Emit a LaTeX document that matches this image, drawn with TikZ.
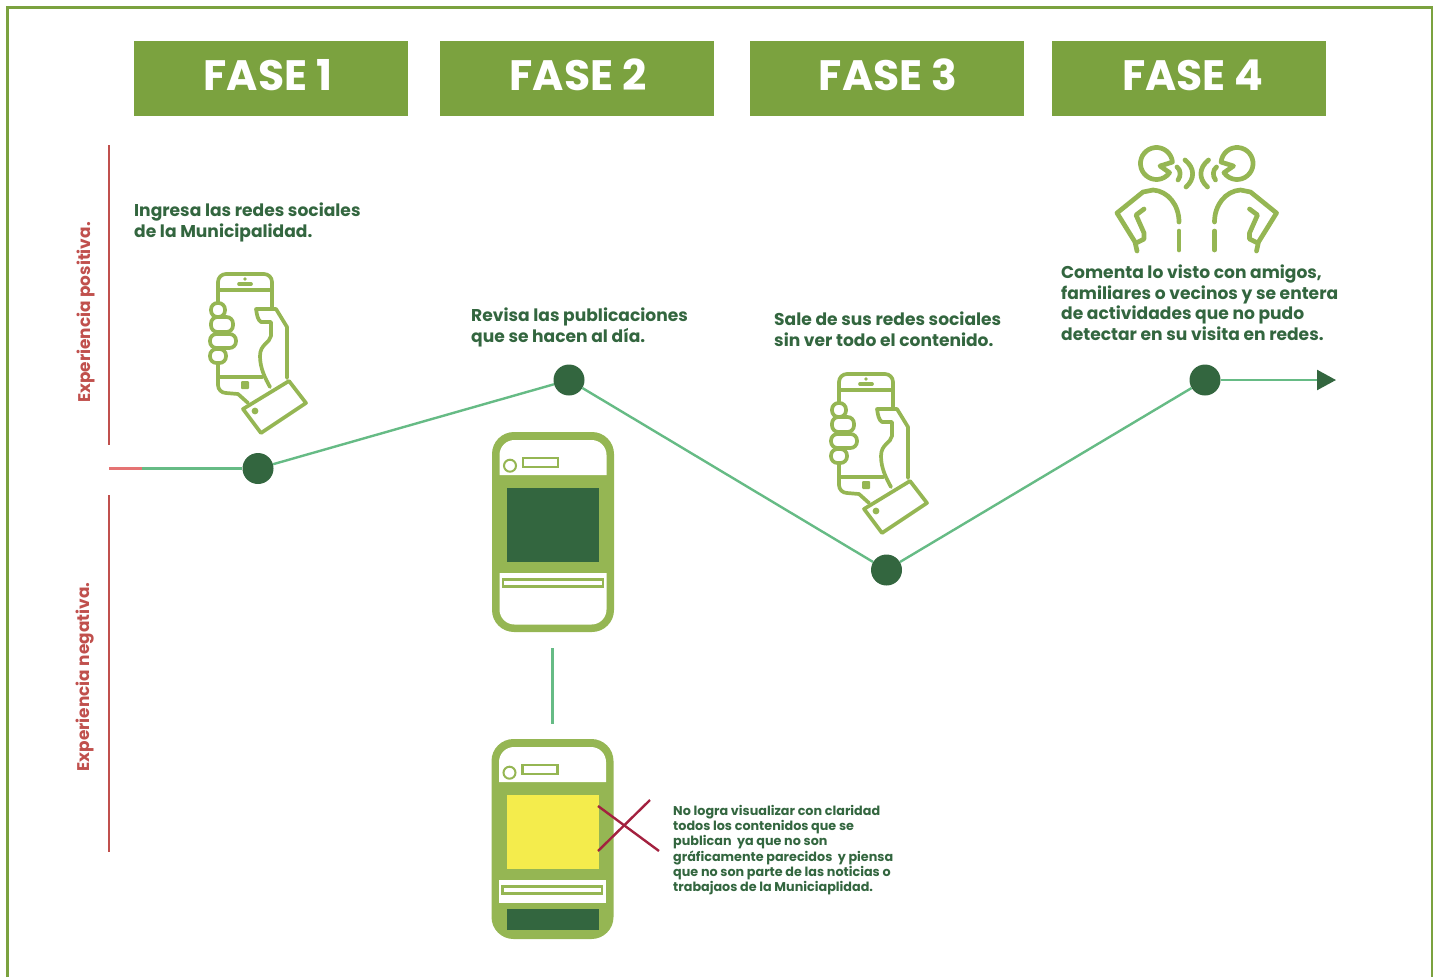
\documentclass[tikz,border=0pt]{standalone}
\usepackage{fontspec}
\setmainfont{Poppins}
\usetikzlibrary{arrows.meta}
\definecolor{verdeA}{HTML}{7BA23F}
\definecolor{verdeB}{HTML}{95B653}
\definecolor{verdeC}{HTML}{33663F}
\definecolor{verdeD}{HTML}{66BB85}
\definecolor{rojoA}{HTML}{C0504D}
\definecolor{rojoB}{HTML}{E57373}
\definecolor{rojoC}{HTML}{A3213F}
\definecolor{amarillo}{HTML}{F4EC4C}
\tikzset{
 fase/.style={fill=verdeA,text=white,minimum width=274pt,minimum height=75pt,
   inner sep=0pt,text height=30pt,text depth=6pt,
   font=\fontsize{42.5}{42.5}\selectfont\bfseries},
 punto/.style={circle,fill=verdeC,minimum size=31pt,inner sep=0pt},
 linea/.style={verdeD,line width=2.4pt},
 eje/.style={rojoA,line width=2pt},
 texto/.style={text=verdeC,anchor=north west,align=left,inner sep=0pt,
   font=\fontsize{17.1}{20.4}\selectfont\bfseries},
 textochico/.style={text=verdeC,anchor=north west,align=left,inner sep=0pt,
   font=\fontsize{12.75}{15.2}\selectfont\bfseries},
 lateral/.style={text=rojoA,rotate=90,inner sep=0pt,
   font=\fontsize{16.9}{16.9}\selectfont\bfseries},
 icono/.style={verdeB,line width=3.7pt,line join=round,line cap=round},
 iconob/.style={verdeB,line width=4.7pt,line join=round,line cap=round},
 mano/.pic={
  \draw[icono] (82,48) -- (82,22) arc[start angle=0,end angle=-90,radius=8]
    -- (36,14) arc[start angle=270,end angle=180,radius=8] -- (28,43);
  \draw[icono] (28,103) -- (28,125) arc[start angle=180,end angle=90,radius=8]
    -- (48,134) -- (58,143);
  \draw[icono] (28,30) -- (82,30) (30,117) -- (72,117) (49,24) -- (61,24);
  \fill[verdeB] (55,19) circle (1.8);
  \fill[verdeB,rounded corners=1pt] (51,121) rectangle (59,129);
  \draw[icono] (97,118) -- (97,67) -- (86,49) -- (66,49)
    .. controls (67,56) and (68,60) .. (71,62) -- (81,62) -- (81,76)
    .. controls (80,83) and (70,84) .. (70,96)
    .. controls (70,108) and (75,118) .. (80,127);
  \draw[icono,fill=white] (99,121) -- (116,143) -- (71,173) -- (53,149) -- cycle;
  \fill[verdeB] (65,151) circle (3.4);
  \draw[icono,fill=white,rounded corners=6.5pt] (21,43) rectangle (35,57);
  \draw[icono,fill=white,rounded corners=6.5pt] (21,57) rectangle (43,72);
  \draw[icono,fill=white,rounded corners=6.5pt] (20,74) rectangle (46,88);
  \draw[icono,fill=white,rounded corners=6.5pt] (20,89) rectangle (36,103);
 },
 persona/.pic={
  \draw[iconob] (72.4,27.1) arc[start angle=-5,end angle=-325,radius=16]
    -- (60,31) -- cycle;
  \draw[iconob] (77,32) .. controls (81,35) and (81,41) .. (78,45);
  \draw[iconob] (85,25) .. controls (95,33) and (95,44) .. (86,52);
  \draw[iconob] (79,87) .. controls (79,70) and (68,56) .. (53,55) -- (43,57)
    -- (17,78) -- (35,107) -- (37,116);
  \draw[iconob] (44,74) -- (36,80) -- (44,98) -- (44,104) -- (36,108);
  \draw[iconob] (79,96) -- (79,115);
 },
 movil/.pic={
  \fill[verdeB,rounded corners=22pt] (0,0) rectangle (122,200);
  \fill[white,rounded corners=15pt] (7.5,8) -- (114.5,8) -- (114.5,43) [sharp corners]
    -- (114.5,43) -- (7.5,43) [rounded corners=15pt] -- cycle;
  \draw[verdeB,line width=2pt] (18,33.7) circle (6);
  \draw[verdeB,line width=2.4pt] (31,26) rectangle (66,35);
 }
}
\begin{document}
\begin{tikzpicture}[x=1pt,y=-1pt]
 \useasboundingbox (0,0) rectangle (1439,977);
 \draw[verdeA,line width=2.8pt] (7.3,977) -- (7.3,7.3) -- (1432,7.3) -- (1432,977);
 % encabezados
 \node[fase] (f1) at (271,78.5) {\hspace{-6pt}FASE 1};
 \node[fase] (f2) at (577,78.5) {\hspace{2pt}FASE 2};
 \node[fase] (f3) at (887,78.5) {\hspace{2pt}FASE 3};
 \node[fase] (f4) at (1189,78.5) {\hspace{8pt}FASE 4};
 % ejes
 \draw[eje] (109,145) -- (109,445);
 \draw[eje] (109,495) -- (109,852);
 \node[lateral] (pos) at (85.5,312.5) {Experiencia positiva.};
 \node[lateral] (neg) at (85.5,677) {Experiencia negativa.};
 % iconos
 \pic at (190,260) {mano};
 \pic at (811,360) {mano};
 \pic at (1100,135) {persona};
 \pic[xscale=-1] at (1293.5,135) {persona};
 \pic at (492,432) {movil};
 \fill[verdeC] (507,488) rectangle (599,562);
 \fill[white,rounded corners=15pt] (499.5,573) [sharp corners] -- (606.5,573)
   [rounded corners=15pt] -- (606.5,624.5) -- (499.5,624.5) [sharp corners] -- (499.5,573) -- cycle;
 \draw[verdeB,line width=2.4pt] (503,579.5) rectangle (603,586.5);
 \pic at (491.5,739) {movil};
 \fill[amarillo] (507,795) rectangle (599,869);
 \fill[white] (499,880) rectangle (606,903);
 \draw[verdeB,line width=2.4pt] (502.5,886.5) rectangle (602,893.5);
 \fill[verdeC] (507,909) rectangle (599,930);
 \draw[rojoC,line width=2.4pt] (598,806) -- (659,851);
 \draw[rojoC,line width=2.4pt] (650,800) -- (598,851);
 % curva
 \coordinate (ini) at (109,468.5);
 \coordinate (cam) at (142,468.5);
 \coordinate (fin) at (1336,380);
 \coordinate (m1) at (552.5,648);
 \coordinate (m2) at (552.5,724);
 \node[punto] (d1) at (258,468.5) {};
 \node[punto] (d2) at (569,380) {};
 \node[punto] (d3) at (886.5,570) {};
 \node[punto] (d4) at (1205,380) {};
 \draw[rojoB,line width=2.8pt] (ini) -- (cam);
 \draw[linea] (cam) -- (d1);
 \draw[linea] (d1) -- (d2);
 \draw[linea] (d2) -- (d3);
 \draw[linea] (d3) -- (d4);
 \draw[linea,-{Triangle[length=19pt,width=20pt,color=verdeC]}] (d4) -- (fin);
 \draw[linea] (m1) -- (m2);
 % textos
 \node[texto] (t1) at (134,203) {Ingresa las redes sociales\\de la Municipalidad.};
 \node[texto] (t2) at (471,308) {Revisa las publicaciones\\que se hacen al día.};
 \node[texto] (t3) at (774,312) {Sale de sus redes sociales\\sin ver todo el contenido.};
 \node[texto] (t4) at (1061,265) {Comenta lo visto con amigos,\\familiares o vecinos y se entera\\de actividades que no pudo\\detectar en su visita en redes.};
 \node[textochico] (t5) at (673,805) {No logra visualizar con claridad\\todos los contenidos que se\\publican\ \ ya que no son\\gráficamente parecidos\ \ y piensa\\que no son parte de las noticias o\\trabajaos de la Municiaplidad.};
\end{tikzpicture}
\end{document}
